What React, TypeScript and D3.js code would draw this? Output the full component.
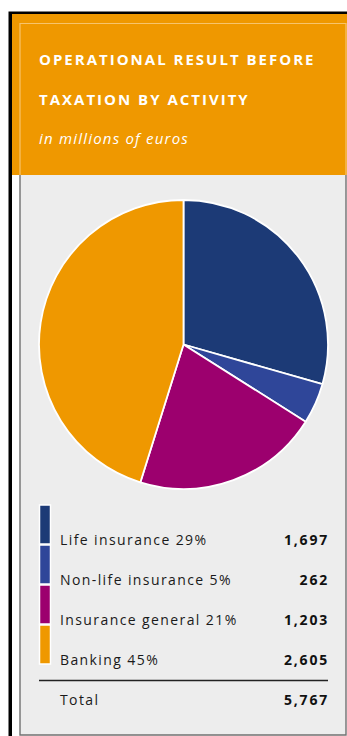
import React from "react";
import * as d3 from "d3";

const categories = ["Life insurance", "Non-life insurance", "Insurance general", "Banking"];
const values = [1697, 262, 1203, 2605];
const percents = [29, 5, 21, 45];
const colors = ["#1c3a76", "#2f4699", "#9c006e", "#ef9800"];
const totalLabel = "Total";
const totalValue = 5767;
const titleLines = ["OPERATIONAL RESULT BEFORE", "TAXATION BY ACTIVITY"];
const subtitle = "in millions of euros";

const W = 347;
const H = 736;
const FONT = "'Open Sans', 'DejaVu Sans', sans-serif";

export default function App() {
  const fmt = d3.format(",");
  const pie = d3.pie<number>().sort(null).value((d) => d)(values);
  const arc = d3.arc<d3.PieArcDatum<number>>().innerRadius(0).outerRadius(144.5);
  const cx = 183.5;
  const cy = 344.5;

  const rowY = d3.scaleLinear().domain([0, 1]).range([545, 585]);

  return (
    <div style={{ position: "fixed", left: 0, top: 0, width: W, height: H, background: "#fff" }}>
      <svg width={W} height={H} style={{ display: "block" }}>
        {/* black outer border */}
        <rect x={8.5} y={11.5} width={W} height={H} fill="#000" />
        <rect x={12} y={14} width={W} height={H} fill="#fff" />
        {/* orange header */}
        <rect x={12} y={14} width={W} height={161} fill="#ef9800" />
        {/* gray panel */}
        <rect x={20} y={175} width={326} height={560} fill="#ededed" />
        {/* inner frame lines */}
        <path d="M20,175 V23.5 H346 V175" fill="none" stroke="#f7c46c" strokeWidth={1.2} />
        <path d="M20,175 V735 H346 V175" fill="none" stroke="#707070" strokeWidth={1.4} />

        {/* title */}
        {titleLines.map((t, i) => (
          <text
            key={t}
            x={39}
            y={65 + i * 40}
            fill="#fff"
            fontFamily={FONT}
            fontWeight={700}
            fontSize={15}
            letterSpacing={2}
          >
            {t}
          </text>
        ))}
        <text
          x={39}
          y={144}
          fill="#fff"
          fontFamily={FONT}
          fontStyle="italic"
          fontSize={15}
          letterSpacing={1.2}
        >
          {subtitle}
        </text>

        {/* pie */}
        <g transform={`translate(${cx},${cy})`}>
          {pie.map((p, i) => (
            <path key={i} d={arc(p) || ""} fill={colors[i]} stroke="#fff" strokeWidth={1.8} strokeLinejoin="round" />
          ))}
        </g>

        {/* legend */}
        {categories.map((c, i) => {
          const y = rowY(i);
          return (
            <g key={c}>
              <rect x={39.5} y={y - 40} width={11} height={39} fill={colors[i]} stroke="#fff" strokeWidth={1.5} />
              <text x={60} y={y} fill="#1a1a1a" fontFamily={FONT} fontSize={14} letterSpacing={1.4}>
                {`${c} ${percents[i]}%`}
              </text>
              <text
                x={329}
                y={y}
                fill="#111"
                fontFamily={FONT}
                fontWeight={700}
                fontSize={14}
                letterSpacing={1.8}
                textAnchor="end"
              >
                {fmt(values[i])}
              </text>
            </g>
          );
        })}
        <line x1={39} x2={328} y1={680.5} y2={680.5} stroke="#222" strokeWidth={1.5} />
        <text x={60} y={705} fill="#1a1a1a" fontFamily={FONT} fontSize={14} letterSpacing={1.4}>
          {totalLabel}
        </text>
        <text
          x={329}
          y={705}
          fill="#111"
          fontFamily={FONT}
          fontWeight={700}
          fontSize={14}
          letterSpacing={1.8}
          textAnchor="end"
        >
          {fmt(totalValue)}
        </text>
      </svg>
    </div>
  );
}
